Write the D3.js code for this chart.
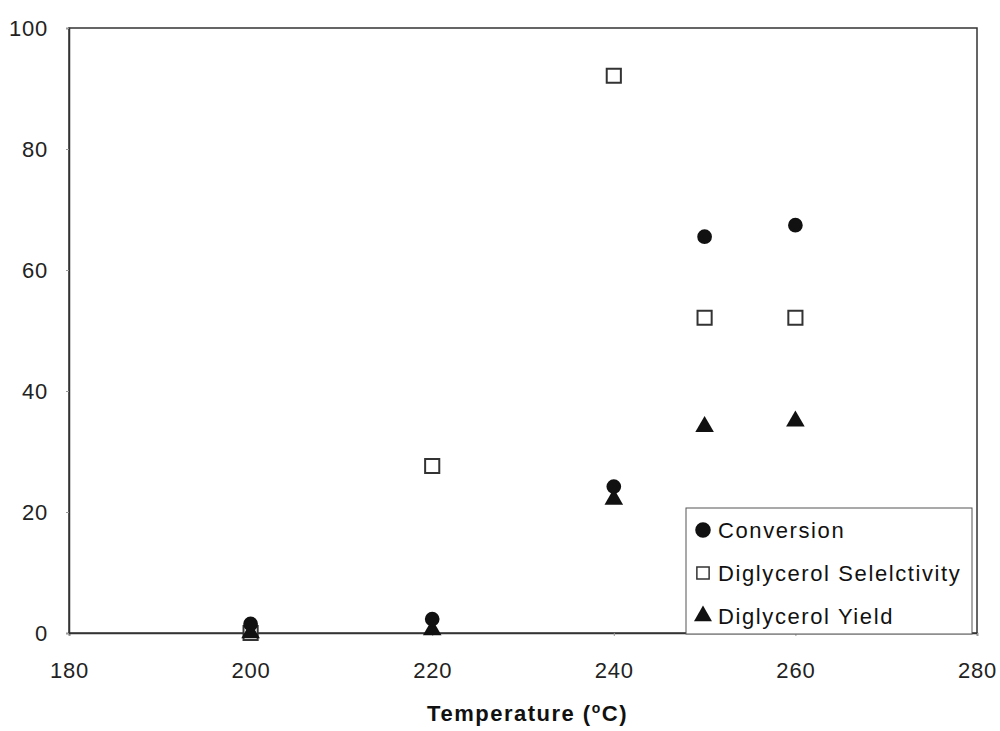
<!DOCTYPE html>
<html>
<head>
<meta charset="utf-8">
<script src="https://cdn.jsdelivr.net/npm/d3@7"></script>
<style>
body { margin: 0; background: #fff; }
.tick text { font-family: "Liberation Sans", Arial, sans-serif; font-size: 22px; letter-spacing: 0.8px; fill: #222; }
.legend text { font-family: "Liberation Sans", Arial, sans-serif; font-size: 22px; letter-spacing: 1.6px; fill: #111; }
</style>
</head>
<body>
<div class="chart"></div>
<script>
//----Data----
const temps = [200, 220, 240, 250, 260];
const conversion = [1.5, 2.3, 24.2, 65.5, 67.4];
const selectivity = [0, 27.6, 92.1, 52.1, 52.1];
const yieldVals = [0, 0.5, 22.1, 34.1, 35.0];
const xTicks = [180, 200, 220, 240, 260, 280];
const yTicks = [0, 20, 40, 60, 80, 100];

const margin = ({top: 28, right: 23, bottom: 98, left: 69});
const width = 1000 - margin.left - margin.right,
      height = 731 - margin.top - margin.bottom;

const svg = d3.select(".chart").append("svg")
    .attr("width", 1000)
    .attr("height", 731)
    .append("g")
    .attr("transform", "translate(" + margin.left + "," + margin.top + ")");

const xScale = d3.scaleLinear().domain([180, 280]).range([0, width]);
const yScale = d3.scaleLinear().domain([0, 100]).range([height, 0]);

// frame
svg.append("rect")
    .attr("width", width).attr("height", height)
    .attr("fill", "none").attr("stroke", "#333").attr("stroke-width", 1.5);

const xAxis = d3.axisBottom(xScale).tickValues(xTicks).tickSize(3).tickPadding(26);
const yAxis = d3.axisLeft(yScale).tickValues(yTicks).tickSize(3).tickPadding(18);

svg.append("g").attr("class", "axis x-axis")
    .attr("transform", `translate(0, ${height})`)
    .call(xAxis);
svg.append("g").attr("class", "axis y-axis").call(yAxis);
svg.selectAll(".axis path").attr("stroke", "#333").attr("stroke-width", 1.5);
svg.selectAll(".axis line").attr("stroke", "#999");

// axis title
svg.append("text")
    .attr("x", xScale(230.5))
    .attr("y", height + 88)
    .attr("text-anchor", "middle")
    .style("font-family", "'Liberation Sans', Arial, sans-serif")
    .style("font-size", "22px")
    .style("font-weight", "bold")
    .style("letter-spacing", "1.5px")
    .attr("fill", "#111")
    .html('Temperature (<tspan font-size="14px" dy="-8">o</tspan><tspan dy="8">C)</tspan>');

const circleSym = d3.symbol().type(d3.symbolCircle).size(170);
const squareSym = d3.symbol().type(d3.symbolSquare).size(200);
const triSym = d3.symbol().type(d3.symbolTriangle).size(150);

// series
svg.selectAll(".sel").data(temps).enter().append("path")
    .attr("class", "sel")
    .attr("d", squareSym)
    .attr("transform", (d, i) => `translate(${xScale(d)},${yScale(selectivity[i])})`)
    .attr("fill", "#fff").attr("stroke", "#333").attr("stroke-width", 2);

svg.selectAll(".yld").data(temps).enter().append("path")
    .attr("class", "yld")
    .attr("d", triSym)
    .attr("transform", (d, i) => `translate(${xScale(d)},${yScale(yieldVals[i])})`)
    .attr("fill", "#111");

svg.selectAll(".conv").data(temps).enter().append("path")
    .attr("class", "conv")
    .attr("d", circleSym)
    .attr("transform", (d, i) => `translate(${xScale(d)},${yScale(conversion[i])})`)
    .attr("fill", "#111");

// legend
const legend = svg.append("g").attr("class", "legend")
    .attr("transform", `translate(${686 - margin.left}, ${508 - margin.top})`);
legend.append("rect")
    .attr("width", 286).attr("height", 126)
    .attr("fill", "#fff").attr("stroke", "#555").attr("stroke-width", 1);

const items = [
  {name: "Conversion", sym: d3.symbol().type(d3.symbolCircle).size(190), fill: "#111", stroke: "none"},
  {name: "Diglycerol Selelctivity", sym: d3.symbol().type(d3.symbolSquare).size(150), fill: "#fff", stroke: "#333"},
  {name: "Diglycerol Yield", sym: d3.symbol().type(d3.symbolTriangle).size(140), fill: "#111", stroke: "none"}
];
items.forEach((it, i) => {
  const g = legend.append("g").attr("transform", `translate(17, ${22 + i * 43})`);
  g.append("path").attr("d", it.sym())
    .attr("fill", it.fill).attr("stroke", it.stroke).attr("stroke-width", 1.5);
  g.append("text").attr("x", 15).attr("y", 8).text(it.name);
});
</script>
</body>
</html>
